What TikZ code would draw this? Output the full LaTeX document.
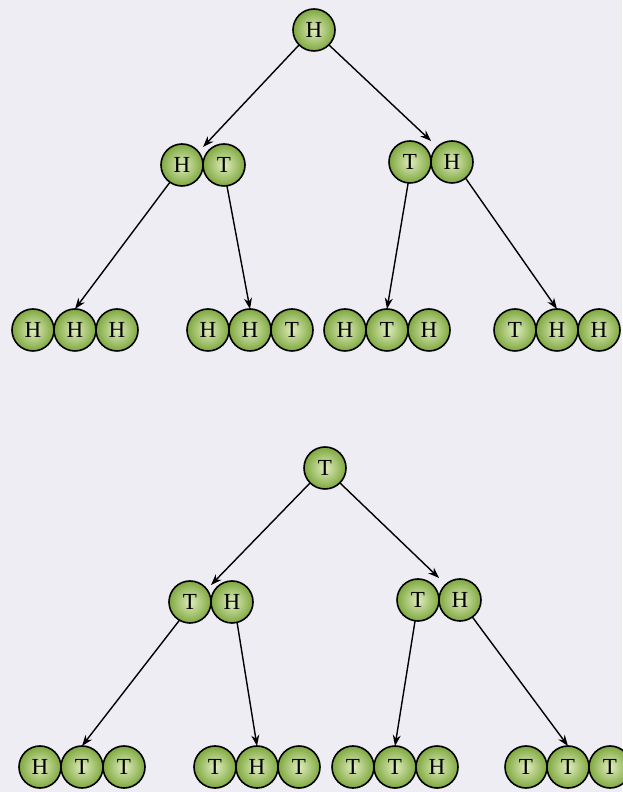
\documentclass[tikz,border=0pt]{standalone}
\usepackage{fontspec}
\usepackage{xcolor}
\usepackage{tikz}
\usetikzlibrary{arrows.meta, positioning}
\newfontfamily\coinface{Liberation Serif}
\definecolor{pagecolor}{HTML}{EDEDF3}
\definecolor{coinlight}{HTML}{E0ECBE}
\definecolor{coindark}{HTML}{7EA83E}
\newcommand{\coinfont}{\coinface\fontsize{23}{23}\selectfont}

\begin{document}
\begin{tikzpicture}[
  x=1pt, y=1pt,
  coin/.style={circle, draw=black, line width=1.6pt, minimum size=42pt,
               inner sep=0pt, outer sep=0pt,
               inner color=coinlight, outer color=coindark,
               font=\coinfont},
  arrow/.style={-{Stealth[length=11pt, width=8pt]}, line width=1.4pt},
]

%% page
\fill[pagecolor] (0,0) rectangle (622,792);
\useasboundingbox (0,0) rectangle (622,792);

%% First toss: H
\node[coin] (h0) at (314,762) {H};

%% Second toss after H
\node[coin] (hh-1) at (182,627) {H};
\node[coin, right=0pt of hh-1] (hh-2) {T};
\node[coin] (ht-1) at (410,630) {T};
\node[coin, right=0pt of ht-1] (ht-2) {H};
\coordinate[above=18pt of hh-1.east] (hh-top);
\coordinate[above=21pt of ht-1.east] (ht-top);

%% Third toss after H
\node[coin] (hhh-2) at (75,462) {H};
\node[coin, left=0pt of hhh-2]  (hhh-1) {H};
\node[coin, right=0pt of hhh-2] (hhh-3) {H};

\node[coin] (hht-2) at (250,462) {H};
\node[coin, left=0pt of hht-2]  (hht-1) {H};
\node[coin, right=0pt of hht-2] (hht-3) {T};

\node[coin] (hth-2) at (387,462) {T};
\node[coin, left=0pt of hth-2]  (hth-1) {H};
\node[coin, right=0pt of hth-2] (hth-3) {H};

\node[coin] (thh-2) at (557,462) {H};
\node[coin, left=0pt of thh-2]  (thh-1) {T};
\node[coin, right=0pt of thh-2] (thh-3) {H};

%% First toss: T
\node[coin] (t0) at (325,324) {T};

%% Second toss after T
\node[coin] (th-1) at (190,190) {T};
\node[coin, right=0pt of th-1] (th-2) {H};
\node[coin] (tt-1) at (418,192) {T};
\node[coin, right=0pt of tt-1] (tt-2) {H};
\coordinate[above=17pt of th-1.east] (th-top);
\coordinate[above=22pt of tt-1.east] (tt-top);

%% Third toss after T
\node[coin] (htt-2) at (82,25) {T};
\node[coin, left=0pt of htt-2]  (htt-1) {H};
\node[coin, right=0pt of htt-2] (htt-3) {T};

\node[coin] (tht-2) at (257,25) {H};
\node[coin, left=0pt of tht-2]  (tht-1) {T};
\node[coin, right=0pt of tht-2] (tht-3) {T};

\node[coin] (tth-2) at (395,25) {T};
\node[coin, left=0pt of tth-2]  (tth-1) {T};
\node[coin, right=0pt of tth-2] (tth-3) {H};

\node[coin] (ttt-2) at (568,25) {T};
\node[coin, left=0pt of ttt-2]  (ttt-1) {T};
\node[coin, right=0pt of ttt-2] (ttt-3) {T};

%% Arrows
\draw[arrow] (h0.225) -- (hh-top);
\draw[arrow] (h0.-45) -- (ht-top);
\draw[arrow] (hh-1.235) -- (hhh-2.north);
\draw[arrow] (hh-2.-82) -- (hht-2.north);
\draw[arrow] (ht-1.265) -- (hth-2.north);
\draw[arrow] (ht-2.-50) -- (thh-2.north);

\draw[arrow] (t0.225) -- (th-top);
\draw[arrow] (t0.-45) -- (tt-top);
\draw[arrow] (th-1.240) -- (htt-2.north);
\draw[arrow] (th-2.-76) -- (tht-2.north);
\draw[arrow] (tt-1.262) -- (tth-2.north);
\draw[arrow] (tt-2.-54) -- (ttt-2.north);

\end{tikzpicture}
\end{document}
